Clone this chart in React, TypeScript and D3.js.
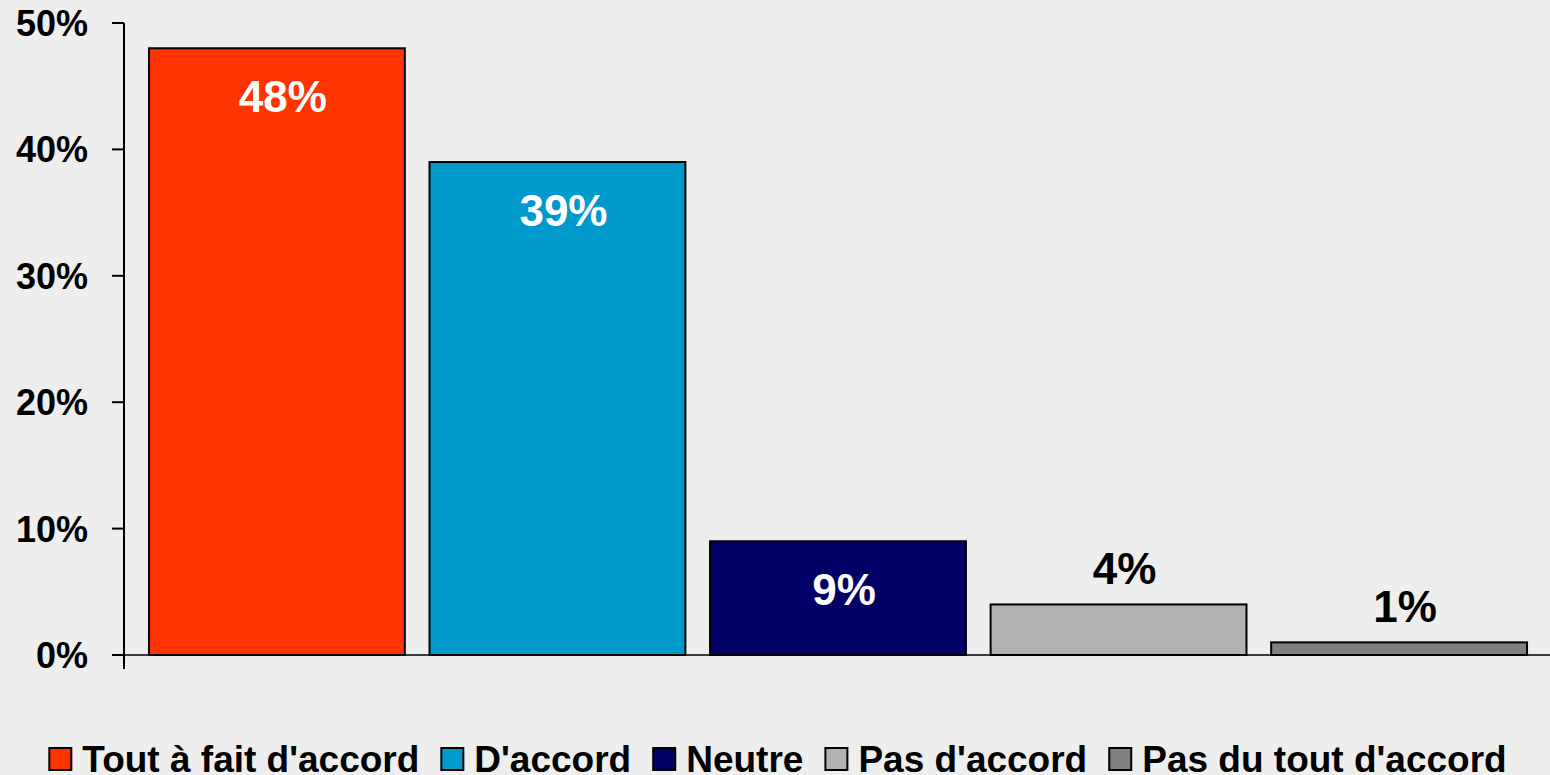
import React from 'react';
import * as d3 from 'd3';

const categories = ['Tout à fait d\'accord', 'D\'accord', 'Neutre', 'Pas d\'accord', 'Pas du tout d\'accord'];
const values = [48, 39, 9, 4, 1];
const colors = ['#FF3300', '#0099CC', '#000066', '#B2B2B2', '#808080'];
const labelInside = [true, true, true, false, false];
const yTicks = [0, 10, 20, 30, 40, 50];

const svgWidth = 1550, svgHeight = 775;
const font = "'Liberation Sans', Arial, sans-serif";
const legendFontSize = 37;

// plot box
const plot = { left: 124, right: 1552, top: 23, bottom: 655 };

const measure = (txt: string, size: number) => {
  const c = document.createElement('canvas').getContext('2d');
  if (!c) return txt.length * size * 0.55;
  c.font = `bold ${size}px ${font}`;
  return c.measureText(txt).width;
};

const App = () => {
  const xScale = d3.scaleBand<string>()
    .domain(categories)
    .range([plot.left, plot.right])
    .paddingInner(0.088)
    .paddingOuter(0.089);

  const yScale = d3.scaleLinear()
    .domain([0, 50])
    .range([plot.bottom, plot.top]);

  // legend layout: square, gap, text, gap
  const sq = 22, gapText = 11, gapItem = 22;
  const widths = categories.map(c => measure(c, legendFontSize));
  const total = d3.sum(widths) + categories.length * (sq + gapText) + (categories.length - 1) * gapItem;
  let cursor = (svgWidth - total) / 2 + 3;
  const legendItems = categories.map((c, i) => {
    const x = cursor;
    cursor += sq + gapText + widths[i] + gapItem;
    return { c, x, color: colors[i] };
  });

  return <svg
    width={svgWidth}
    height={svgHeight}
    style={{ position: 'absolute', left: 0, top: 0, background: '#EEEEEE' }}
    fontFamily={font}
    fontWeight='bold'
  >
    <rect x={0} y={0} width={svgWidth} height={svgHeight} fill='#EEEEEE' />
    {/* bars */}
    <g className='bars'>
      {categories.map((c, i) => {
        const v = values[i];
        const x = xScale(c) as number;
        const w = xScale.bandwidth();
        const y = yScale(v);
        return <g key={c}>
          <rect
            x={x}
            y={y}
            width={w}
            height={yScale(0) - y}
            fill={colors[i]}
            stroke='#000'
            strokeWidth={2}
          />
          <text
            x={x + w / 2 + 6}
            y={labelInside[i] ? y + 64 : y - 20}
            textAnchor='middle'
            fontSize={44}
            fill={labelInside[i] ? '#fff' : '#000'}
          >{v}%</text>
        </g>
      })}
    </g>
    {/* y axis */}
    <g className='yAxis'>
      <line x1={plot.left} x2={plot.left} y1={yScale(50)} y2={yScale(0) + 14} stroke='#000' strokeWidth={2} />
      {yTicks.map(t => <g key={t}>
        <line x1={plot.left - 12} x2={plot.left} y1={yScale(t)} y2={yScale(t)} stroke='#000' strokeWidth={2} />
        <text
          x={88}
          y={yScale(t)}
          dy='0.36em'
          textAnchor='end'
          fontSize={36}
          fill='#000'
        >{t}%</text>
      </g>)}
    </g>
    {/* x axis */}
    <line x1={plot.left - 12} x2={svgWidth} y1={yScale(0)} y2={yScale(0)} stroke='#000' strokeWidth={1.5} />
    {/* legend */}
    <g className='legend'>
      {legendItems.map(d => <g key={d.c}>
        <rect x={d.x} y={748} width={sq} height={sq} fill={d.color} stroke='#000' strokeWidth={2} />
        <text x={d.x + sq + gapText} y={772} fontSize={legendFontSize} fill='#000'>{d.c}</text>
      </g>)}
    </g>
  </svg>
}

export default App;
